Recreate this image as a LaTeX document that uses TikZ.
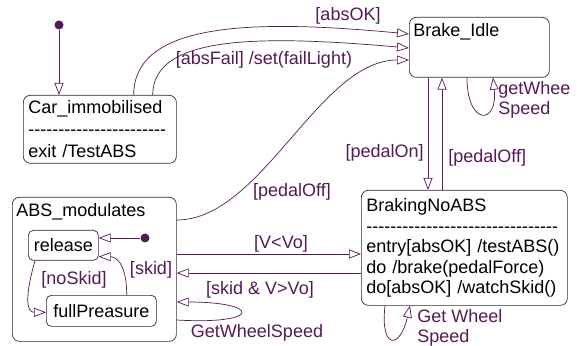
\documentclass[tikz,border=0pt]{standalone}
\usepackage{fontspec}
\setmainfont{Liberation Sans}
\usetikzlibrary{arrows.meta,calc}

\definecolor{trans}{RGB}{85,25,85}
\definecolor{frame}{RGB}{45,45,45}
\newcommand\dashrow[1]{\foreach \i in {1,...,#1}{-\kern0pt}}

\begin{document}
\begin{tikzpicture}[x=1pt, y=1pt, ->, >={Triangle[open, length=12pt, width=9pt]}, color=trans, line width=0.7pt,
  state/.style={draw=frame, fill=white, rounded corners=7pt, anchor=north west, inner sep=5pt, align=left, text=black, font=\fontsize{18}{21}\selectfont},
  substate/.style={rounded corners=5pt, inner sep=3pt, align=center},
  title/.style={anchor=north west, inner xsep=4pt, inner ysep=6pt, text=black, font=\fontsize{18}{21}\selectfont},
  lbl/.style={text=trans, inner sep=1pt, align=left, font=\fontsize{18}{20}\selectfont},
  dot/.style={circle, fill=trans, inner sep=0pt, minimum size=9pt}]

\useasboundingbox (0,0) rectangle (577,345);

\node (idle) [state, minimum width=140pt, minimum height=60pt, label={[title]north west:Brake\_Idle}] at (409,328) {};
\node (car) [state, text width=143pt, minimum height=68pt, font=\fontsize{18}{22}\selectfont] at (23,250) {Car\_immobilised\\ \dashrow{23}\\ exit /TestABS};
\node (braking) [state, text width=196pt, minimum height=115pt, font=\fontsize{18}{20.5}\selectfont] at (361,155) {BrakingNoABS\\ \dashrow{32}\\ entry[absOK] /testABS()\\ do /brake(pedalForce)\\ do[absOK] /watchSkid()};
\node (abs) [state, minimum width=164pt, minimum height=144pt, label={[title]north west:ABS\_modulates}] at (12,148) {};
\node (release) [state, substate, minimum width=70pt, minimum height=30pt] at (28,115) {release};
\node (full) [state, substate, minimum width=110pt, minimum height=31pt] at (46,50) {fullPreasure};

\node (init) [dot] at (59,320) {};
\node (init2) [dot] at (145,107) {};

\path
(init) edge (init |- car.north)

([xshift=-43pt]car.north east) edge [controls={+(0,75) and +(-149,14)}] ([yshift=-17pt]idle.north west)
([xshift=-24pt]car.north east) edge [controls={+(0,60) and +(-149,13)}] ([yshift=-31pt]idle.north west)

([yshift=-23pt]abs.north east) edge [controls={+(85,0) and +(-90,0)}] ([yshift=-43pt]idle.north west)

([xshift=19pt]idle.south west) edge ([xshift=67pt]braking.north west)
([xshift=81pt]braking.north west) edge ([xshift=33pt]idle.south west)
([xshift=58pt]idle.south west) edge [controls={+(0,-48) and +(5,-48)}] ([xshift=84pt]idle.south west)

([xshift=24pt]braking.south west) edge [controls={+(-5,-44) and +(-10,-44)}] ([xshift=49pt]braking.south west)

([yshift=-57pt]abs.north east) edge ([yshift=-64pt]braking.north west)
([yshift=-83pt]braking.north west) edge ([yshift=-76pt]abs.north east)
([yshift=-123pt]abs.north east) edge [controls={+(85,-5) and +(85,0)}] ([yshift=-105pt]abs.north east)

(init2) edge (release.east |- init2)
([xshift=7pt]release.south west) edge [controls={+(-10,-35) and +(-20,0)}] ([yshift=-1.5pt]full.west)
([xshift=-30pt]full.north east) edge [controls={+(0,35) and +(15,0)}] ([yshift=4pt]release.south east);

\node (lblok) [lbl] at (348,329) {[absOK]};
\node (lblfail) [lbl] at (264,285) {[absFail] /set(failLight)};
\node (lbloff) [lbl] at (292,153) {[pedalOff]};
\node (lblon) [lbl, anchor=east] at (425,192) {[pedalOn]};
\node (lbloff2) [lbl, anchor=west] at (447,187) {[pedalOff]};
\node (lblidle) [lbl, anchor=west] at (497,245) {getWhee\\Speed};
\node (lblbrake) [lbl, anchor=west] at (416,17) {Get Wheel\\Speed};
\node (lblv) [lbl] at (281,101) {[V<Vo]};
\node (lblskid) [lbl] at (151,75) {[skid]};
\node (lblloop) [lbl] at (260,55) {[skid \& V>Vo]};
\node (lblget) [lbl] at (257,12) {GetWheelSpeed};
\node (lblnoskid) [lbl] at (74,65) {[noSkid]};

\end{tikzpicture}
\end{document}
